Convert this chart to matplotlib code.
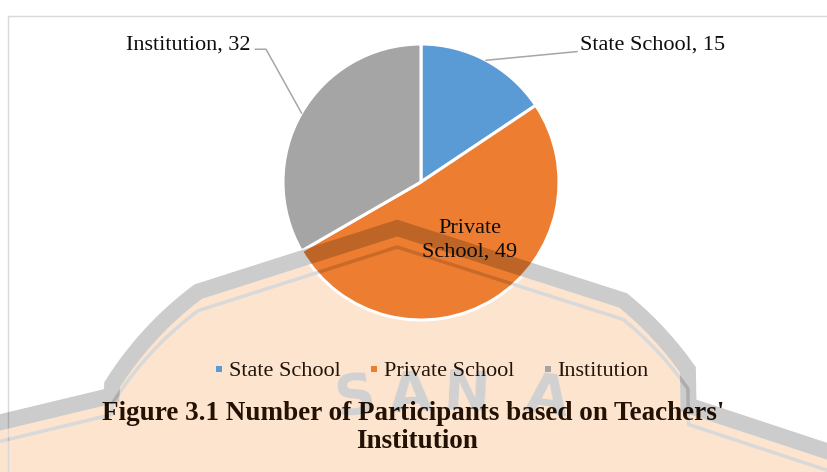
import numpy as np
import matplotlib
matplotlib.use("Agg")
import matplotlib.pyplot as plt
from matplotlib.lines import Line2D

plt.rcParams['font.family'] = ['Liberation Serif', 'DejaVu Serif']

# ---- data ----
categories = ["State School", "Private School", "Institution"]
participants = [15, 49, 32]
colors = ["#5B9BD5", "#ED7D31", "#A5A5A5"]
title_lines = ["Figure 3.1 Number of Participants based on Teachers'", "Institution"]

W, H = 828, 472
fig = plt.figure(figsize=(W / 100, H / 100), dpi=100)
fig.patch.set_facecolor("white")

# ---- page background: faint seal behind the chart (pixel coordinates) ----
bg = fig.add_axes([0, 0, 1, 1], zorder=0)
bg.set_xlim(0, W)
bg.set_ylim(H, 0)
bg.axis("off")

xs = np.linspace(-30, W + 30, 1400)
crown = np.maximum(220 + 0.32 * np.abs(xs - 397),
                   561 - np.sqrt(np.clip(346 ** 2 - (xs - 405) ** 2, 0, None)))
left_lobe = 388 + 0.24 * (110 - xs)
right_lobe = 398 + 0.33 * (xs - 690)
edge = np.where(xs < 112, left_lobe, np.where(xs > 688, right_lobe, crown))

peach = "#FDE4CE"
bg.fill_between(xs, edge, H + 40, color=peach, lw=0, zorder=0)
band_w = 16
bg.plot(xs, edge + band_w / 2, color="white", lw=band_w * 0.72, solid_joinstyle="miter", zorder=1)
bg.plot(xs, edge + 27, color="white", lw=3.5 * 0.72, zorder=1)

seal_letters = "SANA"
seal_x = [355, 410, 467, 547]
seal_y = [397, 395, 395, 398]
seal_rot = [8, 3, -3, -8]
for ch, x, y, rot in zip(seal_letters, seal_x, seal_y, seal_rot):
    bg.text(x, y, ch, ha="center", va="center", fontsize=40, fontweight="bold",
            family="DejaVu Sans", rotation=rot, color="white", zorder=1)

# chart area border
bg.plot([8, 8, W + 5], [H + 5, 16, 16], color="#D9D9D9", lw=1.0, zorder=2)

# ---- pie ----
R_PX = 138
cx, cy = 421, 182
ax = fig.add_axes([(cx - R_PX) / W, (H - cy - R_PX) / H, 2 * R_PX / W, 2 * R_PX / H], zorder=2)
wedges, _ = ax.pie(participants, colors=colors, startangle=90, counterclock=False,
                   radius=1.0, wedgeprops=dict(edgecolor="white", linewidth=2.2))
ax.set_xlim(-1, 1)
ax.set_ylim(-1, 1)
ax.set_aspect("equal")

label_color = "#0D0D0D"
leader_color = "#A6A6A6"
fs = 16

def mid_point(w, r=1.0):
    a = np.deg2rad((w.theta1 + w.theta2) / 2)
    return r * np.cos(a), r * np.sin(a)

# State School label (outside, right)
sx, sy = mid_point(wedges[0])
ax.plot([sx, 1.13], [sy, 0.945], color=leader_color, lw=1.1, clip_on=False)
ax.text(1.152, 0.993, f"{categories[0]}, {participants[0]}", ha="left", va="center",
        fontsize=fs, color=label_color)

# Institution label (outside, left)
ix, iy = mid_point(wedges[2])
ax.plot([ix, -1.123, -1.2], [iy, 0.962, 0.962], color=leader_color, lw=1.1, clip_on=False)
ax.text(-1.235, 0.993, f"{categories[2]}, {participants[2]}", ha="right", va="center",
        fontsize=fs, color=label_color)

# Private School label (inside)
inner = f"{categories[1]}, {participants[1]}".replace(" ", "\n", 1)
ax.text(0.355, -0.42, inner, ha="center", va="center", fontsize=fs,
        color=label_color, linespacing=1.3)

# ---- legend ----
handles = [Line2D([], [], marker="s", linestyle="", markersize=4.6, color=c,
                  markeredgewidth=0) for c in colors]
leg = fig.legend(handles, categories, loc="center", bbox_to_anchor=(431 / W, 1 - 371 / H),
                 ncol=3, frameon=False, fontsize=fs, handlelength=0.5, handletextpad=0.2,
                 columnspacing=1.25, borderpad=0)
for t in leg.get_texts():
    t.set_color("#21140B")

# ---- caption ----
fig.text(413.5 / W, 1 - 413 / H, title_lines[0], ha="center", va="center",
         fontsize=19.5, fontweight="bold", color="#231104")
fig.text(417 / W, 1 - 442 / H, title_lines[1], ha="center", va="center",
         fontsize=19.5, fontweight="bold", color="#231104")

# ---- seal overlay (darkens whatever lies beneath) ----
ov = fig.add_axes([0, 0, 1, 1], zorder=6)
ov.set_xlim(0, W)
ov.set_ylim(H, 0)
ov.axis("off")
ov.patch.set_visible(False)
ov.plot(xs, edge + band_w / 2, lw=band_w * 0.72, solid_joinstyle="miter",
        color="black", alpha=0.2)
ov.plot(xs, edge + 27, lw=3.5 * 0.72, color="black", alpha=0.15)
for ch, x, y, rot in zip(seal_letters, seal_x, seal_y, seal_rot):
    ov.text(x, y, ch, ha="center", va="center", fontsize=40, fontweight="bold",
            family="DejaVu Sans", rotation=rot, color="black", alpha=0.18)

fig.savefig("out.png", dpi=100)
